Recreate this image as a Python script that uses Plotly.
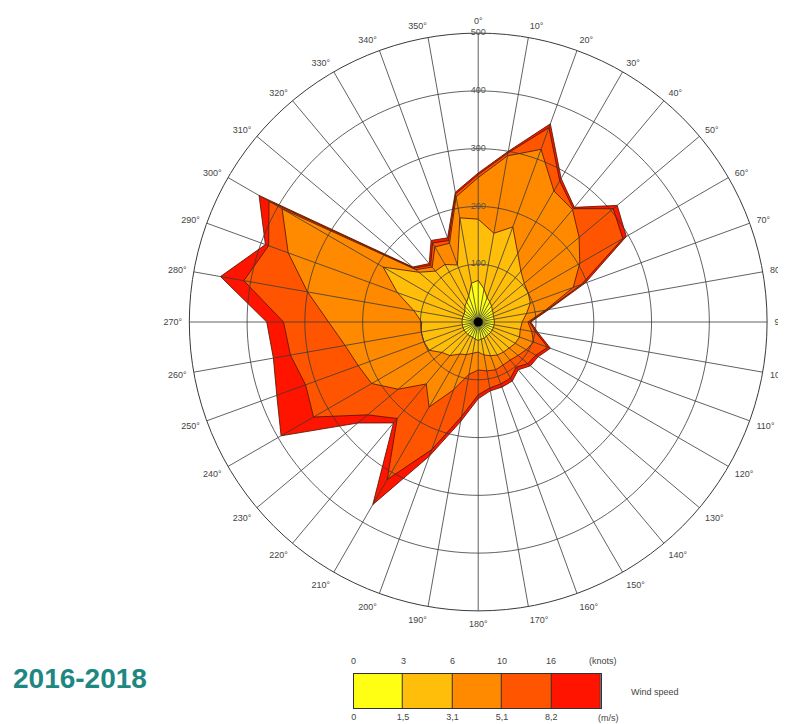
import numpy as np
import plotly.graph_objects as go

# ---------------- data (cumulative frequency per direction) ----------------
directions = list(range(0, 360, 10))

# cumulative outer boundary for each wind-speed class (counts)
cum_0_1_5 = [72, 58, 45, 40, 36, 32, 30, 28, 28, 28, 28, 28, 28, 28, 28, 28, 30, 30,
             32, 30, 28, 28, 28, 28, 28, 28, 28, 28, 28, 28, 28, 30, 36, 40, 48, 68]
cum_1_5_3_1 = [178, 156, 175, 137, 115, 104, 100, 96, 85, 76, 74, 76, 74, 70, 68, 66, 62, 58,
               52, 55, 60, 64, 76, 82, 98, 100, 100, 98, 113, 149, 190, 134, 115, 115, 105, 183]
cum_3_1_5_1 = [250, 292, 318, 262, 254, 228, 203, 175, 118, 86, 94, 102, 96, 90, 86, 86, 88, 86,
               83, 92, 125, 170, 140, 181, 213, 221, 234, 259, 300, 350, 392, 141, 124, 150, 145, 220]
cum_5_1_8_2 = [255, 297, 358, 282, 256, 305, 289, 190, 121, 89, 101, 128, 115, 112, 102, 112, 114, 116,
               126, 166, 235, 315, 218, 250, 329, 318, 330, 337, 412, 386, 418, 145, 128, 158, 150, 225]
cum_gt_8_2 = [258, 300, 365, 287, 259, 314, 296, 197, 124, 91, 105, 133, 120, 118, 108, 118, 120, 121,
              133, 175, 247, 365, 228, 272, 394, 371, 360, 366, 453, 392, 438, 148, 132, 163, 155, 228]

radial_ticks = [100, 200, 300, 400, 500]
knots_labels = ["0", "3", "6", "10", "16"]
ms_labels = ["0", "1,5", "3,1", "5,1", "8,2"]
class_colors = ["#FFFF14", "#FFBE0A", "#FF8A00", "#FF5500", "#FF1400"]

# ---------------- figure ----------------
fig = go.Figure()

layers = [cum_gt_8_2, cum_5_1_8_2, cum_3_1_5_1, cum_1_5_3_1, cum_0_1_5]
layer_colors = class_colors[::-1]
for vals, col in zip(layers, layer_colors):
    fig.add_trace(go.Scatterpolar(
        r=vals + [vals[0]], theta=directions + [directions[0]],
        mode="lines", fill="toself", fillcolor=col,
        line=dict(color="rgba(85,25,0,0.85)", width=1),
        hoverinfo="skip", showlegend=False))

grid_col = "#3a3a3a"
# rings drawn over the data
for rv in radial_ticks[:-1]:
    th = np.arange(0, 361, 2)
    fig.add_trace(go.Scatterpolar(r=[rv] * len(th), theta=th, mode="lines",
                                  line=dict(color=grid_col, width=0.8),
                                  hoverinfo="skip", showlegend=False))
# spokes drawn over the data
sr, st = [], []
for a in directions:
    sr += [0, radial_ticks[-1], None]
    st += [a, a, None]
fig.add_trace(go.Scatterpolar(r=sr, theta=st, mode="lines",
                              line=dict(color=grid_col, width=0.8),
                              hoverinfo="skip", showlegend=False))
# calm centre
fig.add_trace(go.Scatterpolar(r=[0], theta=[0], mode="markers",
                              marker=dict(color="black", size=9),
                              hoverinfo="skip", showlegend=False))
# radial tick labels along 0 degrees
fig.add_trace(go.Scatterpolar(r=radial_ticks, theta=[0] * len(radial_ticks), mode="text",
                              text=[str(v) for v in radial_ticks],
                              textfont=dict(size=9, color="#555", family="Liberation Sans"),
                              hoverinfo="skip", showlegend=False))

# legend colour bar as heatmap
n = len(class_colors)
cs = []
for i, c in enumerate(class_colors):
    cs.append([i / n, c])
    cs.append([(i + 1) / n, c])
fig.add_trace(go.Heatmap(z=[list(range(n))], x=[i + 0.5 for i in range(n)], y=[0.5],
                         colorscale=cs, zmin=-0.5, zmax=n - 0.5, showscale=False,
                         xgap=1, hoverinfo="skip", xaxis="x", yaxis="y"))

lab_font = dict(size=9, color="#444", family="Liberation Sans")
annotations = []
for i, lab in enumerate(knots_labels):
    annotations.append(dict(x=i, y=1, xref="x", yref="y", text=lab, showarrow=False,
                            yanchor="bottom", yshift=6, font=lab_font))
annotations.append(dict(x=0.784, y=0.088, xref="paper", yref="paper", text="(knots)",
                        showarrow=False, yanchor="middle", font=lab_font))
annotations.append(dict(x=0.787, y=0.0084, xref="paper", yref="paper", text="(m/s)",
                        showarrow=False, yanchor="middle", font=lab_font))
annotations.append(dict(x=0.797, y=0.0447, xref="paper", yref="paper", text="Wind speed",
                        showarrow=False, xanchor="left", yanchor="middle", font=lab_font))
annotations.append(dict(x=0.0, y=0.0642, xref="paper", yref="paper", text="<b>2016-2018</b>",
                        showarrow=False, xanchor="left", yanchor="middle",
                        font=dict(size=28, color="#1E8782",
                                  family="Liberation Sans Narrow, Arial Narrow, Liberation Sans")))

fig.update_layout(
    width=778, height=716, autosize=False,
    margin=dict(l=0, r=0, t=0, b=0),
    paper_bgcolor="white", plot_bgcolor="#333333",
    showlegend=False,
    polar=dict(
        domain=dict(x=[0.2301, 0.9756], y=[0.1564, 0.9665]),
        bgcolor="white",
        angularaxis=dict(rotation=90, direction="clockwise", tickmode="array",
                         tickvals=directions, ticktext=[f"{d}°" for d in directions],
                         showgrid=False, showline=True, linecolor=grid_col, linewidth=1,
                         ticks="outside", ticklen=5, tickcolor="rgba(0,0,0,0)",
                         tickfont=lab_font),
        radialaxis=dict(range=[0, 500], showgrid=False, showline=False,
                        showticklabels=False, ticks=""),
    ),
    xaxis=dict(domain=[0.4422, 0.7609], range=[0, 5], tickmode="array",
               tickvals=list(range(n)), ticktext=ms_labels, ticks="", showgrid=False,
               zeroline=False, showline=True, mirror=True, linecolor="#333", linewidth=1,
               tickfont=lab_font, fixedrange=True),
    yaxis=dict(domain=[0.0223, 0.0698], range=[0, 1], showticklabels=False, ticks="",
               showgrid=False, zeroline=False, showline=True, mirror=True, linecolor="#333",
               linewidth=1, fixedrange=True),
    annotations=annotations,
)

fig.write_html("out.html")
